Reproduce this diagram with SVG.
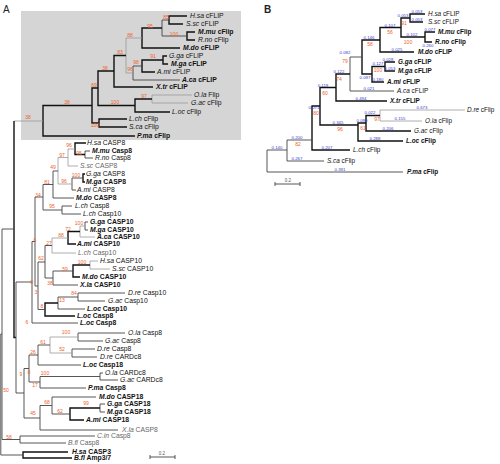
<svg xmlns="http://www.w3.org/2000/svg" width="500" height="464" viewBox="0 0 500 464">
<style>
.l{fill:none;stroke:#444;stroke-width:0.9}
.k{fill:none;stroke:#111;stroke-width:1.4}
.g{fill:none;stroke:#9a9a9a;stroke-width:0.8}
.t{font-family:"Liberation Sans",Arial,sans-serif;font-size:6.8px;fill:#111}
.tb{font-family:"Liberation Sans",Arial,sans-serif;font-size:6.4px;fill:#111}
.b{font-weight:bold}
.gr{fill:#666}
.s{font-style:italic}
.bs{font-family:"Liberation Sans",Arial,sans-serif;font-size:5px;fill:#f0602a;text-anchor:middle}
.bl{font-family:"Liberation Sans",Arial,sans-serif;font-size:4.3px;fill:#3535d0;text-anchor:middle}
.pl{font-family:"Liberation Sans",Arial,sans-serif;font-size:10px;fill:#222}
.sc{font-family:"Liberation Sans",Arial,sans-serif;font-size:4.5px;fill:#555;text-anchor:middle}
</style>
<rect width="500" height="464" fill="#fff"/>
<text class="pl" x="3" y="13">A</text>
<text class="pl" x="264" y="13" font-weight="bold">B</text>
<rect id="cflip-clade-box" x="21" y="11" width="220" height="129" fill="#d5d5d5"/>

<g id="connectors">
<!-- panel A, cFLIP clade -->
<path class="k" d="M187,16H169V24H183"/>
<path class="k" d="M195,32H187V40H195"/>
<path class="l" d="M169,20H162V36H187"/>
<path class="k" d="M162,28H142V48H180"/>
<path class="k" d="M167,56H163V64H168"/>
<path class="k" d="M163,60H142V72H155"/>
<path class="l" d="M142,66H133V80H180"/>
<path class="g" d="M142,38H126V73H133"/>
<path class="k" d="M126,55.5H114V87H153"/>
<path class="g" d="M192,95H152V103H188"/>
<path class="k" d="M152,99H135V112H170"/>
<path class="k" d="M114,71H98V105.5H135"/>
<path class="k" d="M127,119H99V127H127"/>
<path class="k" d="M98,88H92V123H99"/>
<path class="k" d="M92,105.5H43V136H135"/>
<path class="g" d="M43,121H14"/>
<path class="k" d="M14,121V337.5H16"/>
<!-- panel A, caspase clades -->
<path class="l" d="M90,151H85V158H93"/>
<path class="k" d="M86,143H75V154.5H85"/>
<path class="g" d="M75,149H68V166H78"/>
<path class="k" d="M85,174H83V182H85"/>
<path class="l" d="M83,178H72V190H76"/>
<path class="g" d="M68,157.5H58V184H72"/>
<path class="l" d="M58,171H53V198H74"/>
<path class="l" d="M72,206H62V214H81"/>
<path class="l" d="M53,184.5H43V210H62"/>
<path class="l" d="M88,222H85V230H88"/>
<path class="g" d="M85,226H80V237H95"/>
<path class="k" d="M80,231.5H68V244H76"/>
<path class="g" d="M68,238H52V253H76"/>
<path class="g" d="M98,261H90V269H110"/>
<path class="k" d="M90,265H73V277H80"/>
<path class="l" d="M73,271H53V285H78"/>
<path class="l" d="M52,245.5H45V278H53"/>
<path class="l" d="M125,293H78V301H105"/>
<path class="l" d="M78,297H58V309H85"/>
<path class="k" d="M58,303H45V316H75"/>
<path class="l" d="M45,262H38V309.5H45"/>
<path class="l" d="M43,197H35V286H38"/>
<path class="l" d="M35,241.5H32V323H78"/>
<path class="l" d="M125,333H78V341H103"/>
<path class="l" d="M95,349H72V357H97"/>
<path class="g" d="M78,337H50V353H72"/>
<path class="l" d="M50,345H38V365H81"/>
<path class="l" d="M103,373H100V380H118"/>
<path class="l" d="M100,376.5H40V388H86"/>
<path class="l" d="M38,355H29V382H40"/>
<path class="l" d="M105,404H100V412H105"/>
<path class="k" d="M100,408H70V420H84"/>
<path class="l" d="M96,397H52V414H70"/>
<path class="l" d="M52,405.5H40V430H118"/>
<path class="l" d="M29,368.5H24V418H40"/>
<path class="l" d="M32,282H16V393H24"/>
<path class="l" d="M95,436H20V443H66"/>
<path class="l" d="M14,229H2V439.5H20"/>
<path class="k" d="M68,452H23V458H72"/>
<path class="l" d="M2,334H0.8V455H23"/>
<!-- panel A scale bar -->
<path class="l" d="M150,457H175M150,455V459M175,455V459"/>
<!-- panel B -->
<path class="k" d="M425,14H410V22H423"/>
<path class="k" d="M435,32H425V42H432"/>
<path class="k" d="M410,18H401V37H425"/>
<path class="k" d="M401,27.5H380V52H414"/>
<path class="k" d="M395,62H385V71H395"/>
<path class="k" d="M385,66.5H372V82H384"/>
<path class="k" d="M380,40H362V74H372"/>
<path class="l" d="M362,57H350V91H394"/>
<path class="k" d="M350,74H336V101H387"/>
<path class="g" d="M465,110H380V121H422"/>
<path class="k" d="M380,115.5H366V131H411"/>
<path class="k" d="M366,123H358V141H403"/>
<path class="k" d="M336,87.5H320V125H358"/>
<path class="k" d="M320,106H312V150H350"/>
<path class="l" d="M312,140H287V161H324"/>
<path class="l" d="M287,150H267V172H403"/>
<path class="l" d="M275,184H300M275,182V186M300,182V186"/>
</g>

<g id="leaves-a-cflip">
<g id="a-hsa-cflip"><text class="t" x="190" y="18.4"><tspan class="s">H.sa</tspan> cFLIP</text></g>
<g id="a-ssc-cflip"><text class="t" x="186" y="26.4"><tspan class="s">S.sc</tspan> cFLIP</text></g>
<g id="a-mmu-cflip"><text class="t b" x="198" y="34.4"><tspan class="s">M.mu</tspan> cFlip</text></g>
<g id="a-rno-cflip"><text class="t" x="198" y="42.4"><tspan class="s">R.no</tspan> cFlip</text></g>
<g id="a-mdo-cflip"><text class="t b" x="183" y="50.4"><tspan class="s">M.do</tspan> cFLIP</text></g>
<g id="a-gga-cflip"><text class="t" x="169" y="58.4"><tspan class="s">G.ga</tspan> cFLIP</text></g>
<g id="a-mga-cflip"><text class="t b" x="171" y="66.4"><tspan class="s">M.ga</tspan> cFLIP</text></g>
<g id="a-ami-cflip"><text class="t" x="157" y="74.4"><tspan class="s">A.mi</tspan> cFLIP</text></g>
<g id="a-aca-cflip"><text class="t b" x="182" y="82.4"><tspan class="s">A.ca</tspan> cFLIP</text></g>
<g id="a-xtr-cflip"><text class="t b" x="156" y="89.4"><tspan class="s">X.tr</tspan> cFLIP</text></g>
<g id="a-ola-cflip"><text class="t" x="194" y="97.4"><tspan class="s">O.la</tspan> Flip</text></g>
<g id="a-gac-cflip"><text class="t" x="191" y="105.4"><tspan class="s">G.ac</tspan> cFlip</text></g>
<g id="a-loc-cflip"><text class="t" x="172" y="114.4"><tspan class="s">L.oc</tspan> cFlip</text></g>
<g id="a-lch-cflip"><text class="t" x="129" y="121.4"><tspan class="s">L.ch</tspan> cFlip</text></g>
<g id="a-sca-cflip"><text class="t" x="129" y="129.4"><tspan class="s">S.ca</tspan> cFlip</text></g>
<g id="a-pma-cflip"><text class="t b" x="137" y="138.4"><tspan class="s">P.ma</tspan> cFlip</text></g>
</g>

<g id="leaves-a-caspase">
<g id="a-hsa-casp8"><text class="t" x="87" y="145.4"><tspan class="s">H.sa</tspan> CASP8</text></g>
<g id="a-mmu-casp8"><text class="t b" x="92" y="153.4"><tspan class="s">M.mu</tspan> Casp8</text></g>
<g id="a-rno-casp8"><text class="t" x="95" y="160.4"><tspan class="s">R.no</tspan> Casp8</text></g>
<g id="a-ssc-casp8"><text class="t gr" x="80" y="168.4"><tspan class="s">S.sc</tspan> CASP8</text></g>
<g id="a-gga-casp8"><text class="t" x="86" y="176.4"><tspan class="s">G.ga</tspan> CASP8</text></g>
<g id="a-mga-casp8"><text class="t b" x="86" y="184.4"><tspan class="s">M.ga</tspan> CASP8</text></g>
<g id="a-ami-casp8"><text class="t" x="77" y="192.4"><tspan class="s">A.mi</tspan> CASP8</text></g>
<g id="a-mdo-casp8"><text class="t b" x="76" y="200.4"><tspan class="s">M.do</tspan> CASP8</text></g>
<g id="a-lch-casp8"><text class="t" x="75" y="208.4"><tspan class="s">L.ch</tspan> Casp8</text></g>
<g id="a-lch-casp10a"><text class="t" x="83" y="216.4"><tspan class="s">L.ch</tspan> Casp10</text></g>
<g id="a-gga-casp10"><text class="t b" x="90" y="224.4"><tspan class="s">G.ga</tspan> CASP10</text></g>
<g id="a-mga-casp10"><text class="t b" x="90" y="232.4"><tspan class="s">M.ga</tspan> CASP10</text></g>
<g id="a-aca-casp10"><text class="t b" x="97" y="239.4"><tspan class="s">A.ca</tspan> CASP10</text></g>
<g id="a-ami-casp10"><text class="t b" x="77" y="246.4"><tspan class="s">A.mi</tspan> CASP10</text></g>
<g id="a-lch-casp10b"><text class="t gr" x="78" y="255.4"><tspan class="s">L.ch</tspan> Casp10</text></g>
<g id="a-hsa-casp10"><text class="t" x="100" y="263.4"><tspan class="s">H.sa</tspan> CASP10</text></g>
<g id="a-ssc-casp10"><text class="t" x="112" y="271.4"><tspan class="s">S.sc</tspan> CASP10</text></g>
<g id="a-mdo-casp10"><text class="t b" x="82" y="279.4"><tspan class="s">M.do</tspan> CASP10</text></g>
<g id="a-xla-casp10"><text class="t b" x="80" y="287.4"><tspan class="s">X.la</tspan> CASP10</text></g>
<g id="a-dre-casp10"><text class="t" x="128" y="295.4"><tspan class="s">D.re</tspan> Casp10</text></g>
<g id="a-gac-casp10"><text class="t" x="108" y="303.4"><tspan class="s">G.ac</tspan> Casp10</text></g>
<g id="a-loc-casp10"><text class="t b" x="87" y="311.4"><tspan class="s">L.oc</tspan> Casp10</text></g>
<g id="a-loc-casp8a"><text class="t b" x="77" y="318.4"><tspan class="s">L.oc</tspan> Casp8</text></g>
<g id="a-loc-casp8b"><text class="t b" x="80" y="325.4"><tspan class="s">L.oc</tspan> Casp8</text></g>
<g id="a-ola-casp8"><text class="t" x="128" y="335.4"><tspan class="s">O.la</tspan> Casp8</text></g>
<g id="a-gac-casp8"><text class="t" x="105" y="343.4"><tspan class="s">G.ac</tspan> Casp8</text></g>
<g id="a-dre-casp8"><text class="t" x="97" y="351.4"><tspan class="s">D.re</tspan> Casp8</text></g>
<g id="a-dre-cardc8"><text class="t" x="100" y="359.4"><tspan class="s">D.re</tspan> CARDc8</text></g>
<g id="a-loc-casp18"><text class="t b" x="83" y="367.4"><tspan class="s">L.oc</tspan> Casp18</text></g>
<g id="a-ola-cardc8"><text class="t" x="105" y="375.4"><tspan class="s">O.la</tspan> CARDc8</text></g>
<g id="a-gac-cardc8"><text class="t" x="120" y="382.4"><tspan class="s">G.ac</tspan> CARDc8</text></g>
<g id="a-pma-casp8"><text class="t b" x="88" y="390.4"><tspan class="s">P.ma</tspan> Casp8</text></g>
<g id="a-mdo-casp18"><text class="t b" x="99" y="399.4"><tspan class="s">M.do</tspan> CASP18</text></g>
<g id="a-gga-casp18"><text class="t b" x="107" y="406.4"><tspan class="s">G.ga</tspan> CASP18</text></g>
<g id="a-mga-casp18"><text class="t b" x="107" y="414.4"><tspan class="s">M.ga</tspan> CASP18</text></g>
<g id="a-ami-casp18"><text class="t b" x="86" y="422.4"><tspan class="s">A.mi</tspan> CASP18</text></g>
<g id="a-xla-casp8"><text class="t gr" x="122" y="432.4"><tspan class="s">X.la</tspan> CASP8</text></g>
<g id="a-cin-casp8"><text class="t gr" x="97" y="438.4"><tspan class="s">C.in</tspan> Casp8</text></g>
<g id="a-bfl-casp8"><text class="t gr" x="68" y="445.4"><tspan class="s">B.fl</tspan> Casp8</text></g>
<g id="a-hsa-casp3"><text class="t b" x="72" y="454.4"><tspan class="s">H.sa</tspan> CASP3</text></g>
<g id="a-bfl-amp37"><text class="t b" x="74" y="460.4"><tspan class="s">B.fl</tspan> Amp3/7</text></g>
</g>

<g id="support-a">
<text class="bs" x="166" y="18.8">85</text>
<text class="bs" x="150" y="27.8">95</text>
<text class="bs" x="174" y="35.8">100</text>
<text class="bs" x="130" y="36.8">88</text>
<text class="bs" x="120" y="54.3">83</text>
<text class="bs" x="153" y="58.3">91</text>
<text class="bs" x="136" y="64.3">98</text>
<text class="bs" x="130" y="71.3">96</text>
<text class="bs" x="105" y="70.3">38</text>
<text class="bs" x="94" y="87.3">69</text>
<text class="bs" x="144" y="98.3">97</text>
<text class="bs" x="115" y="104.3">100</text>
<text class="bs" x="67" y="104.3">38</text>
<text class="bs" x="95" y="127.3">100</text>
<text class="bs" x="28" y="119.3">38</text>
<text class="bs" x="69" y="146.8">96</text>
<text class="bs" x="79" y="154.8">95</text>
<text class="bs" x="62" y="156.8">97</text>
<text class="bs" x="53" y="168.8">49</text>
<text class="bs" x="76" y="176.8">100</text>
<text class="bs" x="64" y="182.8">96</text>
<text class="bs" x="47" y="183.8">81</text>
<text class="bs" x="38" y="196.8">34</text>
<text class="bs" x="52" y="207.8">95</text>
<text class="bs" x="79" y="224.8">100</text>
<text class="bs" x="68" y="230.8">72</text>
<text class="bs" x="61" y="236.8">88</text>
<text class="bs" x="35" y="241.8">6</text>
<text class="bs" x="49" y="244.8">27</text>
<text class="bs" x="41" y="259.8">62</text>
<text class="bs" x="82" y="263.8">100</text>
<text class="bs" x="65" y="270.8">59</text>
<text class="bs" x="32" y="283.8">8</text>
<text class="bs" x="50" y="284.8">38</text>
<text class="bs" x="36" y="293.8">3</text>
<text class="bs" x="74" y="294.8">84</text>
<text class="bs" x="62" y="301.8">13</text>
<text class="bs" x="42" y="307.8">8</text>
<text class="bs" x="27" y="323.8">6</text>
<text class="bs" x="66" y="333.8">100</text>
<text class="bs" x="43" y="343.8">61</text>
<text class="bs" x="62" y="350.8">52</text>
<text class="bs" x="33" y="353.8">26</text>
<text class="bs" x="29" y="373.8">8</text>
<text class="bs" x="21" y="375.8">9</text>
<text class="bs" x="45" y="374.8">100</text>
<text class="bs" x="35" y="386.8">17</text>
<text class="bs" x="6" y="391.8">50</text>
<text class="bs" x="47" y="403.8">68</text>
<text class="bs" x="86" y="404.8">99</text>
<text class="bs" x="60" y="412.8">62</text>
<text class="bs" x="33" y="414.8">45</text>
<text class="bs" x="9" y="438.8">58</text>
<text class="sc" x="162" y="454.5">0.2</text>
</g>

<g id="leaves-b">
<g id="b-hsa-cflip"><text class="tb" x="428" y="16.2"><tspan class="s">H.sa</tspan> cFLIP</text></g>
<g id="b-ssc-cflip"><text class="tb" x="428" y="24.2"><tspan class="s">S.sc</tspan> cFLIP</text></g>
<g id="b-mmu-cflip"><text class="tb b" x="438" y="34.2"><tspan class="s">M.mu</tspan> cFlip</text></g>
<g id="b-rno-cflip"><text class="tb b" x="435" y="44.2"><tspan class="s">R.no</tspan> cFlip</text></g>
<g id="b-mdo-cflip"><text class="tb b" x="418" y="54.2"><tspan class="s">M.do</tspan> cFLIP</text></g>
<g id="b-gga-cflip"><text class="tb b" x="398" y="64.2"><tspan class="s">G.ga</tspan> cFLIP</text></g>
<g id="b-mga-cflip"><text class="tb b" x="398" y="73.2"><tspan class="s">M.ga</tspan> cFLIP</text></g>
<g id="b-ami-cflip"><text class="tb b" x="387" y="84.2"><tspan class="s">A.mi</tspan> cFLIP</text></g>
<g id="b-aca-cflip"><text class="tb" x="397" y="93.2"><tspan class="s">A.ca</tspan> cFLIP</text></g>
<g id="b-xtr-cflip"><text class="tb b" x="390" y="103.2"><tspan class="s">X.tr</tspan> cFLIP</text></g>
<g id="b-dre-cflip"><text class="tb" x="467" y="112.2"><tspan class="s">D.re</tspan> cFlip</text></g>
<g id="b-ola-cflip"><text class="tb" x="425" y="123.2"><tspan class="s">O.la</tspan> cFlip</text></g>
<g id="b-gac-cflip"><text class="tb" x="414" y="133.2"><tspan class="s">G.ac</tspan> cFlip</text></g>
<g id="b-loc-cflip"><text class="tb b" x="406" y="143.2"><tspan class="s">L.oc</tspan> cFlip</text></g>
<g id="b-lch-cflip"><text class="tb" x="353" y="152.2"><tspan class="s">L.ch</tspan> cFlip</text></g>
<g id="b-sca-cflip"><text class="tb" x="327" y="163.2"><tspan class="s">S.ca</tspan> cFlip</text></g>
<g id="b-pma-cflip"><text class="tb b" x="407" y="174.2"><tspan class="s">P.ma</tspan> cFlip</text></g>
</g>

<g id="labels-b">
<text class="bl" x="417" y="12.5">0.053</text>
<text class="bl" x="417" y="20.5">0.053</text>
<text class="bl" x="403" y="16.5">0.053</text>
<text class="bs" x="404" y="24.5">91</text>
<text class="bl" x="430" y="30.5">0.077</text>
<text class="bl" x="428" y="47">0.260</text>
<text class="bl" x="412" y="35.5">0.102</text>
<text class="bs" x="408" y="43.5">100</text>
<text class="bl" x="390" y="26.5">0.107</text>
<text class="bs" x="390" y="33.5">56</text>
<text class="bl" x="397" y="50.5">0.025</text>
<text class="bl" x="369" y="38.5">0.146</text>
<text class="bs" x="370" y="46">58</text>
<text class="bl" x="388" y="60.5">0.028</text>
<text class="bl" x="390" y="69.5">0.053</text>
<text class="bl" x="378" y="64.5">0.127</text>
<text class="bs" x="378" y="71.5">100</text>
<text class="bl" x="378" y="80.5">0.180</text>
<text class="bl" x="365" y="78.5">0.097</text>
<text class="bl" x="345" y="53.5">0.082</text>
<text class="bs" x="345" y="63">79</text>
<text class="bl" x="339" y="73">0.122</text>
<text class="bs" x="339" y="80.5">74</text>
<text class="bl" x="369" y="89.5">0.021</text>
<text class="bl" x="323" y="87">0.119</text>
<text class="bs" x="325" y="95">60</text>
<text class="bl" x="361" y="99.5">0.494</text>
<text class="bl" x="314" y="108.5">0.071</text>
<text class="bs" x="316" y="114.5">80</text>
<text class="bl" x="422" y="108.5">0.673</text>
<text class="bl" x="370" y="114">0.022</text>
<text class="bs" x="377" y="121">97</text>
<text class="bl" x="400" y="119.5">0.155</text>
<text class="bl" x="362" y="122">0.090</text>
<text class="bs" x="363" y="129.5">61</text>
<text class="bl" x="388" y="129.5">0.206</text>
<text class="bl" x="338" y="123.5">0.345</text>
<text class="bs" x="340" y="130.5">96</text>
<text class="bl" x="375" y="139.5">0.288</text>
<text class="bl" x="297" y="138.5">0.200</text>
<text class="bs" x="298" y="146">82</text>
<text class="bl" x="277" y="148.5">0.140</text>
<text class="bl" x="327" y="148.5">0.207</text>
<text class="bl" x="297" y="159.5">0.267</text>
<text class="bl" x="340" y="170.5">0.391</text>
<text class="sc" x="288" y="181.5">0.2</text>
</g>
</svg>
